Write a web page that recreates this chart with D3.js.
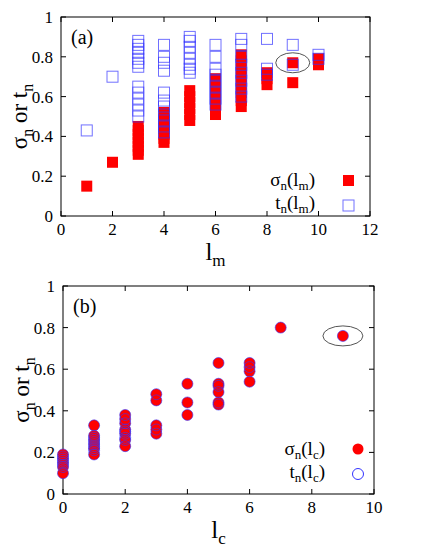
<!DOCTYPE html><html><head><script src="https://cdn.jsdelivr.net/npm/d3@7"></script>
<style>body{margin:0;background:#fff}</style></head><body><svg id="c" width="436" height="549" font-family="'Liberation Serif','DejaVu Serif',serif"></svg>
<script>
const sigmaM = [[1,.15],[2,.27],[3,.31],[3,.33],[3,.35],[3,.37],[3,.39],[3,.41],[3,.43],[3,.45],[4,.37],[4,.39],[4,.41],[4,.44],[4,.46],[4,.49],[4,.52],[5,.48],[5,.51],[5,.54],[5,.57],[5,.6],[5,.63],[6,.51],[6,.54],[6,.57],[6,.6],[6,.63],[6,.66],[6,.69],[7,.55],[7,.58],[7,.62],[7,.66],[7,.7],[7,.74],[7,.78],[7,.81],[8,.66],[8,.69],[8,.72],[9,.77],[9,.67],[10,.76],[10,.79]];
const tM = [[1,.43],[2,.70],[3,.50],[3,.53],[3,.56],[3,.59],[3,.62],[3,.65],[3,.75],[3,.77],[3,.79],[3,.82],[3,.84],[3,.86],[3,.88],[4,.42],[4,.45],[4,.48],[4,.51],[4,.55],[4,.58],[4,.62],[4,.73],[4,.77],[4,.80],[4,.86],[5,.72],[5,.74],[5,.76],[5,.79],[5,.82],[5,.85],[5,.88],[5,.90],[6,.56],[6,.59],[6,.62],[6,.65],[6,.68],[6,.71],[6,.74],[6,.80],[6,.86],[7,.60],[7,.64],[7,.68],[7,.72],[7,.76],[7,.80],[7,.86],[7,.89],[8,.71],[8,.74],[8,.89],[9,.76],[9,.86],[10,.79],[10,.81]];
const sigmaC = [[0,.10],[0,.13],[0,.15],[0,.17],[0,.19],[1,.19],[1,.22],[1,.24],[1,.26],[1,.28],[1,.33],[2,.23],[2,.26],[2,.29],[2,.31],[2,.34],[2,.36],[2,.38],[3,.29],[3,.31],[3,.33],[3,.45],[3,.48],[4,.38],[4,.44],[4,.53],[5,.43],[5,.44],[5,.49],[5,.52],[5,.53],[5,.63],[6,.54],[6,.59],[6,.61],[6,.63],[7,.80],[9,.76]];
const tC = sigmaC.concat([[0,.14],[0,.16],[0,.18],[1,.21],[1,.23],[1,.25],[1,.27],[2,.27],[2,.30]]);
const ticksA=[0,2,4,6,8,10,12], ticksB=[0,2,4,6,8,10], ticksY=[0,.2,.4,.6,.8,1];
const svg=d3.select("#c");
function panel(L,R,T,B,xmax,xt,label,sub){
  const x=d3.scaleLinear([0,xmax],[L,R]), y=d3.scaleLinear([0,1],[B,T]);
  const g=svg.append("g");
  g.append("rect").attr("x",L).attr("y",T).attr("width",R-L).attr("height",B-T).attr("fill","none").attr("stroke","#000");
  xt.forEach(v=>{g.append("line").attr("x1",x(v)).attr("x2",x(v)).attr("y1",B).attr("y2",B-5).attr("stroke","#000");
    g.append("line").attr("x1",x(v)).attr("x2",x(v)).attr("y1",T).attr("y2",T+5).attr("stroke","#000");
    g.append("text").attr("x",x(v)).attr("y",B+19).attr("text-anchor","middle").attr("font-size",17).text(v);});
  ticksY.forEach(v=>{g.append("line").attr("x1",L).attr("x2",L+5).attr("y1",y(v)).attr("y2",y(v)).attr("stroke","#000");
    g.append("line").attr("x1",R).attr("x2",R-5).attr("y1",y(v)).attr("y2",y(v)).attr("stroke","#000");
    g.append("text").attr("x",L-8).attr("y",y(v)+6).attr("text-anchor","end").attr("font-size",17).text(v);});
  g.append("text").attr("x",L+10).attr("y",T+27).attr("font-size",20).text(label);
  const xl=g.append("text").attr("x",(L+R)/2).attr("y",B+44).attr("text-anchor","middle").attr("font-size",25);
  xl.append("tspan").text("l");xl.append("tspan").attr("font-size",17).attr("dy",6).text(sub);
  const yl=g.append("text").attr("transform",`translate(${L-34},${(T+B)/2}) rotate(-90)`).attr("text-anchor","middle").attr("font-size",23);
  yl.append("tspan").text("σ");yl.append("tspan").attr("font-size",16).attr("dy",6).text("n");
  yl.append("tspan").attr("dy",-6).text(" or t");yl.append("tspan").attr("font-size",16).attr("dy",6).text("n");
  return {x,y,g};
}
function leg(g,xr,yb,sub){
  [["σ",0],["t",1]].forEach(([s,i])=>{const t=g.append("text").attr("x",xr).attr("y",yb+i*23).attr("text-anchor","end").attr("font-size",19);
    t.append("tspan").text(s);t.append("tspan").attr("font-size",13).attr("dy",4).text("n");
    t.append("tspan").attr("dy",-4).text("(l");t.append("tspan").attr("font-size",13).attr("dy",4).text(sub);t.append("tspan").attr("dy",-4).text(")");});
}
let p=panel(61,370,17,216,12,ticksA,"(a)","m");
p.g.selectAll(".sa").data(sigmaM).join("rect").attr("x",d=>p.x(d[0])-5.5).attr("y",d=>p.y(d[1])-5.5).attr("width",11).attr("height",11).attr("fill","#f00");
p.g.selectAll(".ta").data(tM).join("rect").attr("x",d=>p.x(d[0])-5.5).attr("y",d=>p.y(d[1])-5.5).attr("width",11).attr("height",11).attr("fill","none").attr("stroke","#33f").attr("stroke-opacity",.7);
p.g.append("ellipse").attr("cx",p.x(9)).attr("cy",p.y(.77)).attr("rx",17).attr("ry",10).attr("fill","none").attr("stroke","#555");
leg(p.g,315,186,"m");
p.g.append("rect").attr("x",343).attr("y",175).attr("width",11).attr("height",11).attr("fill","#f00");
p.g.append("rect").attr("x",343).attr("y",200).attr("width",11).attr("height",11).attr("fill","none").attr("stroke","#33f").attr("stroke-opacity",.7);
let q=panel(63,374,286,494,10,ticksB,"(b)","c");
q.g.selectAll(".sb").data(sigmaC).join("circle").attr("cx",d=>q.x(d[0])).attr("cy",d=>q.y(d[1])).attr("r",5.5).attr("fill","#f00");
q.g.selectAll(".tb").data(tC).join("circle").attr("cx",d=>q.x(d[0])).attr("cy",d=>q.y(d[1])).attr("r",5.5).attr("fill","none").attr("stroke","#33f").attr("stroke-opacity",.6);
q.g.append("ellipse").attr("cx",q.x(9)).attr("cy",q.y(.76)).attr("rx",20).attr("ry",10).attr("fill","none").attr("stroke","#555");
leg(q.g,325,455,"c");
q.g.append("circle").attr("cx",358).attr("cy",449).attr("r",5.5).attr("fill","#f00");
q.g.append("circle").attr("cx",358).attr("cy",474).attr("r",5.5).attr("fill","none").attr("stroke","#33f");
</script></body></html>
